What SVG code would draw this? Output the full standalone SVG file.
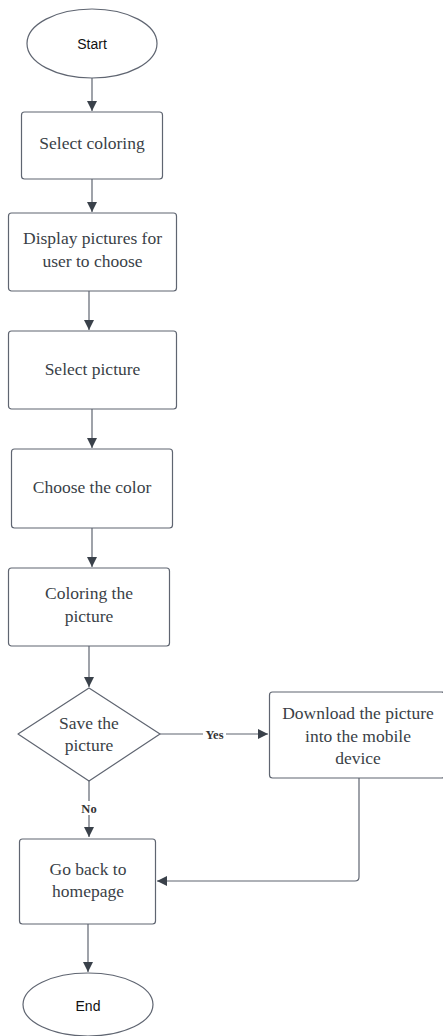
<svg xmlns="http://www.w3.org/2000/svg" width="443" height="1036" viewBox="0 0 443 1036">
<defs>
<style>
.box{fill:#fff;stroke:#5f6571;stroke-width:1.2}
.t{font-family:"Liberation Serif",serif;font-size:17.5px;fill:#3a3f47;text-anchor:middle}
.s{font-family:"Liberation Sans",Arial,sans-serif;font-size:14px;fill:#111;text-anchor:middle}
.lbl{font-family:"Liberation Serif",serif;font-size:12.5px;font-weight:bold;fill:#333;text-anchor:middle}
.c{fill:none;stroke:#5f6571;stroke-width:1.2}
</style>
<marker id="ah" viewBox="0 0 10 10" refX="10" refY="5" markerWidth="10" markerHeight="10" markerUnits="userSpaceOnUse" orient="auto"><path d="M0,0 L10,5 L0,10 z" fill="#3a414a"/></marker>
</defs>
<rect width="443" height="1036" fill="#fff"/>
<g id="connectors">
<path class="c" d="M92,78 V111" marker-end="url(#ah)"/>
<path class="c" d="M92,179 V212" marker-end="url(#ah)"/>
<path class="c" d="M89,291 V330" marker-end="url(#ah)"/>
<path class="c" d="M92,409 V448" marker-end="url(#ah)"/>
<path class="c" d="M92,528 V567" marker-end="url(#ah)"/>
<path class="c" d="M89,646 V687" marker-end="url(#ah)"/>
<path class="c" d="M160,734 H268" marker-end="url(#ah)"/>
<path class="c" d="M89,781 V837" marker-end="url(#ah)"/>
<path class="c" d="M359,778 V877 Q359,881 355,881 H157" marker-end="url(#ah)"/>
<path class="c" d="M88,924 V972" marker-end="url(#ah)"/>
<rect x="203" y="727" width="23" height="14" fill="#fff"/>
<text class="lbl" x="214.5" y="738.5">Yes</text>
<rect x="79" y="801" width="20" height="14" fill="#fff"/>
<text class="lbl" x="89" y="813">No</text>
</g>
<g id="start">
<ellipse class="box" cx="92" cy="43.5" rx="65" ry="34.5"/>
<text class="s" x="92" y="48.5">Start</text>
</g>
<g id="select-coloring">
<rect class="box" x="21.5" y="112" width="141" height="67" rx="3"/>
<text class="t" x="92" y="149">Select coloring</text>
</g>
<g id="display-pictures">
<rect class="box" x="8.5" y="213" width="168" height="78" rx="3"/>
<text class="t" x="92.5" y="244">Display pictures for</text>
<text class="t" x="92.5" y="267">user to choose</text>
</g>
<g id="select-picture">
<rect class="box" x="8.5" y="331" width="168" height="78" rx="3"/>
<text class="t" x="92.5" y="375">Select picture</text>
</g>
<g id="choose-color">
<rect class="box" x="11.5" y="449" width="161" height="79" rx="3"/>
<text class="t" x="92" y="493">Choose the color</text>
</g>
<g id="coloring-picture">
<rect class="box" x="8.5" y="568" width="161" height="78" rx="3"/>
<text class="t" x="89" y="599">Coloring the</text>
<text class="t" x="89" y="622">picture</text>
</g>
<g id="save-decision">
<path class="box" d="M89,688 L160,734 L89,781 L18,734 Z" stroke-linejoin="round"/>
<text class="t" x="89" y="729">Save the</text>
<text class="t" x="89" y="751">picture</text>
</g>
<g id="download">
<rect class="box" x="269.5" y="692" width="175" height="86" rx="3"/>
<text class="t" x="358" y="719">Download the picture</text>
<text class="t" x="358" y="742">into the mobile</text>
<text class="t" x="358" y="764">device</text>
</g>
<g id="go-back">
<rect class="box" x="19.5" y="839" width="136" height="85" rx="3"/>
<text class="t" x="88" y="875">Go back to</text>
<text class="t" x="88" y="897">homepage</text>
</g>
<g id="end">
<ellipse class="box" cx="88" cy="1004.5" rx="65" ry="31.5"/>
<text class="s" x="88" y="1011">End</text>
</g>
</svg>
